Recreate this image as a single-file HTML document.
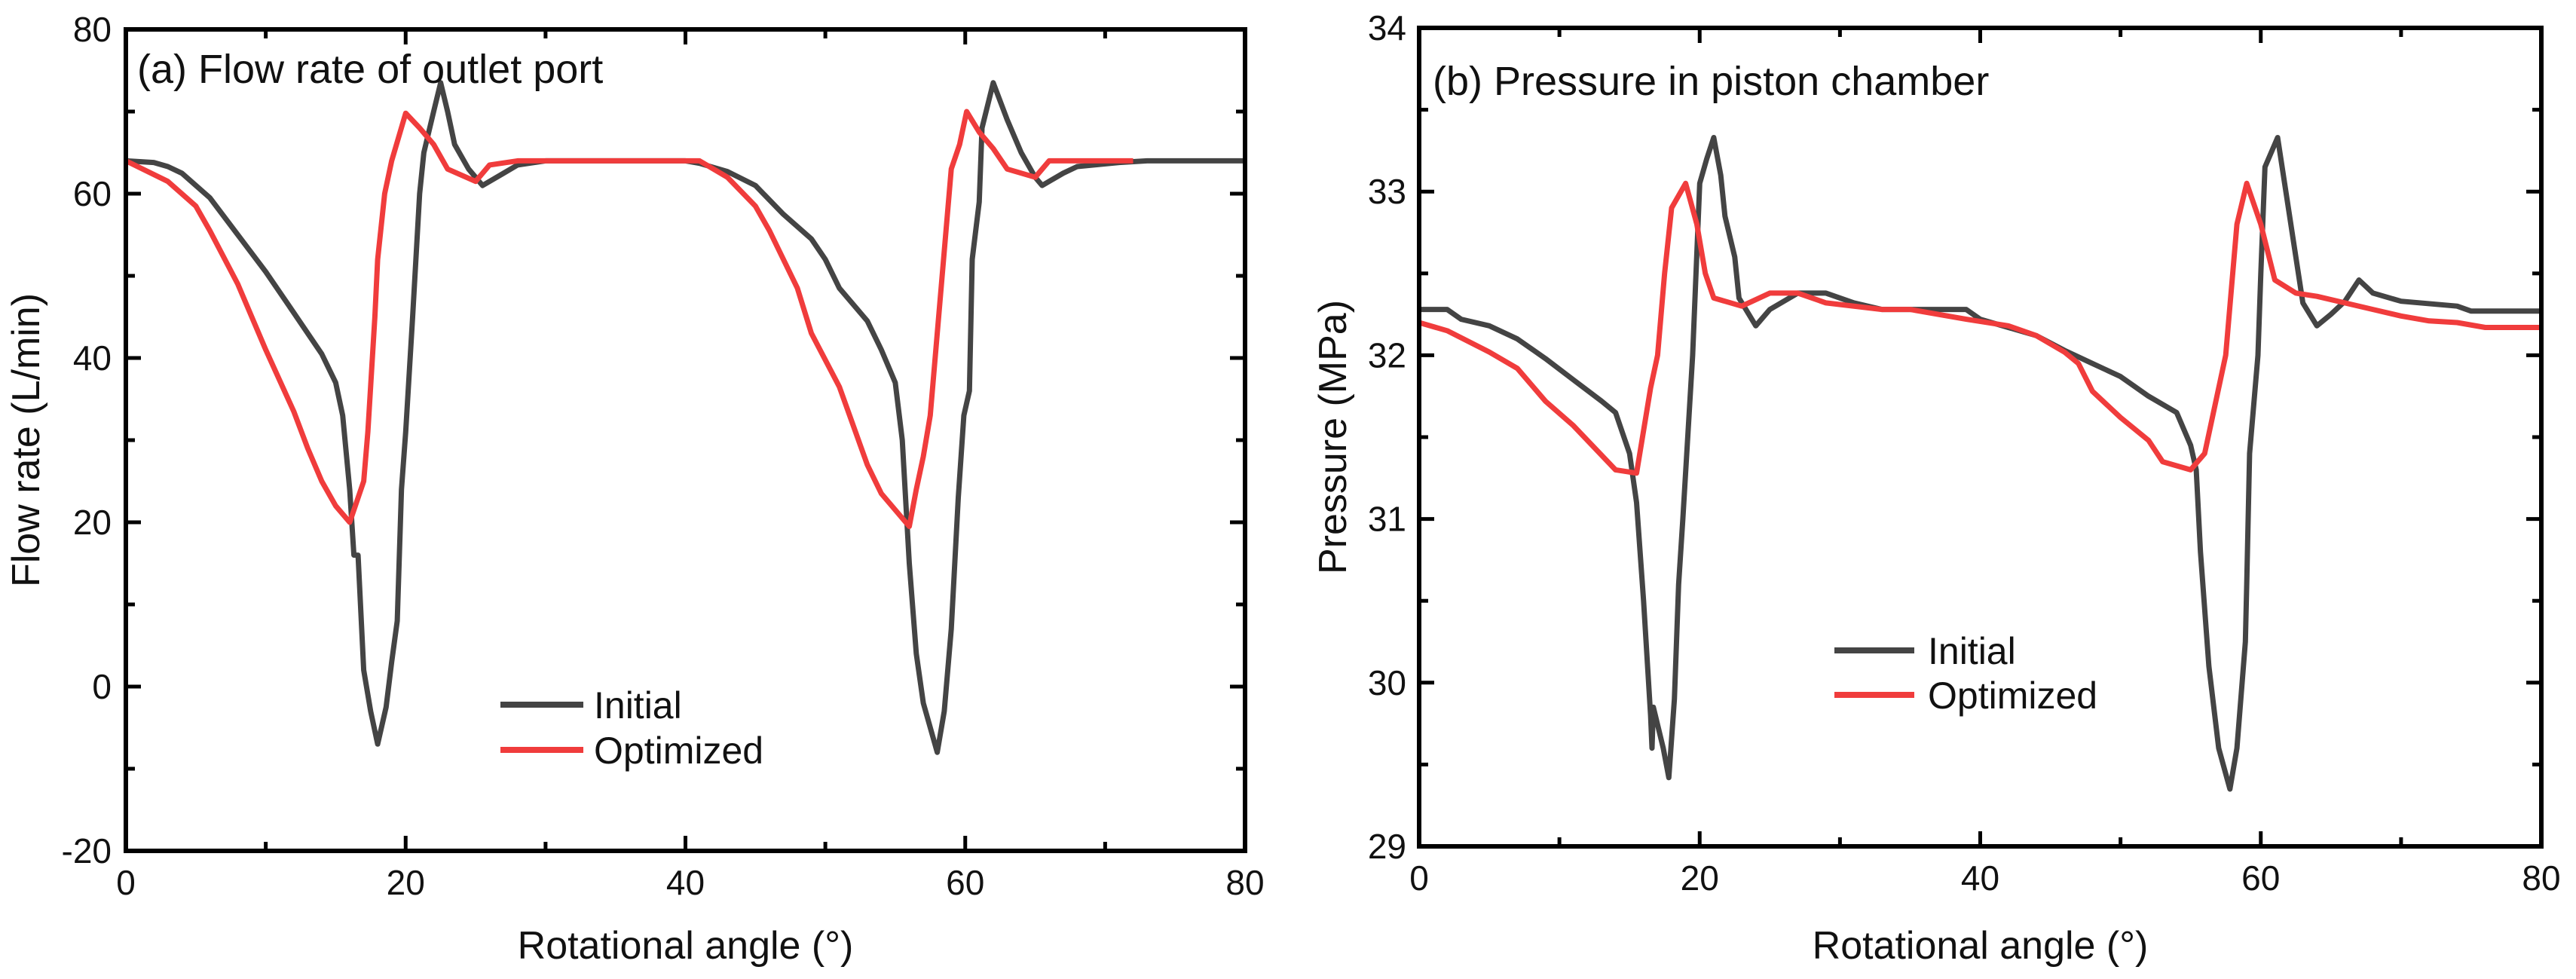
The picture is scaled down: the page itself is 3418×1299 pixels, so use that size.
<!DOCTYPE html>
<html><head><meta charset="utf-8"><style>
html,body{margin:0;padding:0;background:#fff;}
svg{display:block;font-family:"Liberation Sans",Arial,sans-serif;}
</style></head><body>
<svg id="fig" width="3418" height="1299" viewBox="0 0 3418 1299" xmlns="http://www.w3.org/2000/svg"></svg>
<script>
// ---- Panel (a): flow rate ----
const flowInitX = [0,2,3,4,6,8,10,12,14,15,15.5,16,16.3,16.6,17,17.5,18,18.6,19,19.4,19.7,20,20.5,21,21.3,22,22.5,23,23.5,24.5,25.5,27,28,30,40,41,43,45,47,49,50,51,53,54,55,55.5,56,56.5,57,58,58.5,59,59.5,59.9,60.3,60.5,61,61.2,62,63,64,65,65.5,67,68,71,73,80];
const flowInitY = [64,63.8,63.3,62.5,59.5,55,50.5,45.5,40.5,37,33,24,16,16,2,-3,-7,-2.5,3,8,24,31,45,60,65,70,73.5,70,66,63,61,62.5,63.5,64,64,63.7,62.7,61,57.5,54.5,52,48.5,44.5,41,37,30,15,4,-2,-8,-3,7,23,33,36,52,59,68,73.5,69,65,62,61,62.5,63.3,63.8,64,64];
const flowOptX = [0,3,5,6,8,10,12,13,14,15,16,17,17.3,17.8,18,18.5,19,20,21,22,23,25,26,28,40,41,43,45,46,48,49,51,53,54,56,56.5,57,57.5,58,59,59.6,60.1,61,62,63,65,66,72];
const flowOptY = [64,61.5,58.5,55.5,49,41,33.5,29,25,22,20,25,31,45,52,60,64,69.8,68,66,63,61.5,63.5,64,64,64,62,58.5,55.5,48.5,43,36.5,27,23.5,19.5,24,28,33,43,63,66,70,67.5,65.5,63,62,64,64];
const flowYTicks = [-20,0,20,40,60,80];
const xTicks = [0,20,40,60,80];
// ---- Panel (b): pressure ----
const presInitX = [0,2,3,5,7,9,11,13,14,15,15.5,16,16.5,16.6,16.7,17.4,17.8,18.2,18.5,18.8,19.5,20,20.5,21,21.5,21.8,22.5,22.8,24,25,27,29,31,33,39,40,42,44,46,48,50,52,54,55,55.4,55.7,56.3,57,57.8,58.3,58.9,59,59.2,59.8,60,60.3,61.2,62.5,63,64,65,66,67,68,70,74,75,80];
const presInitY = [32.28,32.28,32.22,32.18,32.1,31.98,31.85,31.72,31.65,31.4,31.1,30.5,29.8,29.6,29.85,29.6,29.42,29.9,30.6,31,32,33.05,33.2,33.33,33.1,32.85,32.6,32.35,32.18,32.28,32.38,32.38,32.32,32.28,32.28,32.22,32.17,32.12,32.03,31.95,31.87,31.75,31.65,31.45,31.3,30.8,30.1,29.6,29.35,29.6,30.25,30.6,31.4,32,32.5,33.15,33.33,32.6,32.32,32.18,32.25,32.33,32.46,32.38,32.33,32.3,32.27,32.27];
const presOptX = [0,2,5,7,9,11,12,14,15.5,16.5,17,17.5,18,19,19.8,20.4,21,23,25,27,29,33,35,39,42,44,46,47,48,50,52,53,55,56,57.5,58.3,59,60,61,62.5,64,68,70,72,74,76,80];
const presOptY = [32.2,32.15,32.02,31.92,31.72,31.57,31.48,31.3,31.28,31.8,32,32.5,32.9,33.05,32.8,32.5,32.35,32.3,32.38,32.38,32.32,32.28,32.28,32.22,32.18,32.12,32.02,31.95,31.78,31.62,31.48,31.35,31.3,31.4,32,32.8,33.05,32.8,32.46,32.38,32.36,32.28,32.24,32.21,32.2,32.17,32.17];
const presYTicks = [29,30,31,32,33,34];

const NS = "http://www.w3.org/2000/svg";
const svg = document.getElementById('fig');
function el(tag, attrs, parent, text){
  const e = document.createElementNS(NS, tag);
  for (const k in attrs) e.setAttribute(k, attrs[k]);
  if (text !== undefined) e.textContent = text;
  (parent||svg).appendChild(e);
  return e;
}

function panel(cfg){
  const g = el('g', {});
  
  
  const L=cfg.L,R=cfg.R,T=cfg.T,B=cfg.B;
  const sx = v => L + (v - 0) / 80 * (R - L);
  const sy = v => B - (v - cfg.ymin) / (cfg.ymax - cfg.ymin) * (B - T);
  // series
  function series(xs, ys, color, nm){
    let d = '';
    for (let i=0;i<xs.length;i++) d += (i?'L':'M') + sx(xs[i]).toFixed(1) + ' ' + sy(ys[i]).toFixed(1);
    const p = el('path', {d:d, fill:'none', stroke:color, 'stroke-width':7, 'stroke-linejoin':'round'}, g);
    
    
  }
  series(cfg.ix, cfg.iy, '#444444', 'initial-line');
  series(cfg.ox, cfg.oy, '#f03c3c', 'optimized-line');
  // frame
  const fr = el('rect', {x:L, y:T, width:R-L, height:B-T, fill:'none', stroke:'#000', 'stroke-width':6}, g);
  
  
  // x ticks
  for (let v=0; v<=80; v+=10){
    const x = sx(v), len = (v%20===0)?20:12;
    el('line', {x1:x,y1:B,x2:x,y2:B-len,stroke:'#000','stroke-width':5}, g);
    el('line', {x1:x,y1:T,x2:x,y2:T+len,stroke:'#000','stroke-width':5}, g);
  }
  xTicks.forEach(v=>{
    const t = el('text', {x:sx(v), y:B+58, 'font-size':46, 'text-anchor':'middle', fill:'#111'}, g, String(v));
    
    
  });
  // y ticks
  const yt = cfg.yticks, step = (yt[1]-yt[0])/2;
  for (let v=cfg.ymin; v<=cfg.ymax+1e-9; v+=step){
    const y = sy(v), major = Math.abs(((v-cfg.ymin)/step)%2) < 1e-6, len = major?20:12;
    el('line', {x1:L,y1:y,x2:L+len,y2:y,stroke:'#000','stroke-width':5}, g);
    el('line', {x1:R,y1:y,x2:R-len,y2:y,stroke:'#000','stroke-width':5}, g);
  }
  yt.forEach(v=>{
    const t = el('text', {x:cfg.ylabX, y:sy(v)+16, 'font-size':46, 'text-anchor':'end', fill:'#111'}, g, String(v));
    
    
  });
  // axis titles
  const xt = el('text', {x:(L+R)/2, y:1272, 'font-size':52, 'text-anchor':'middle', fill:'#111'}, g, 'Rotational angle (°)');
  
  
  const ytt = el('text', {x:0, y:0, 'font-size':52, 'text-anchor':'middle', fill:'#111', transform:`translate(${cfg.ytX},${(T+B)/2}) rotate(-90)`}, g, cfg.ytitle);
  
  
  // panel title
  const pt = el('text', {x:cfg.ptX, y:cfg.ptY, 'font-size':54, fill:'#111'}, g, cfg.ptitle);
  
  
  // legend
  const lg = el('g', {}, g);
  
  
  [['Initial','#444444',cfg.lgY1],['Optimized','#f03c3c',cfg.lgY2]].forEach(([lab,c,y])=>{
    const e = el('g', {}, lg);
    
    
    el('line', {x1:cfg.lgX1,y1:y,x2:cfg.lgX2,y2:y,stroke:c,'stroke-width':8}, e);
    el('text', {x:cfg.lgT, y:y+18, 'font-size':50, fill:'#111'}, e, lab);
  });
}

panel({name:'flow-rate-chart', L:167,R:1652,T:39,B:1129, ymin:-20,ymax:80, yticks:flowYTicks,
  ix:flowInitX, iy:flowInitY, ox:flowOptX, oy:flowOptY, ylabX:148, ytX:52,
  ytitle:'Flow rate (L/min)', ptitle:'(a) Flow rate of outlet port', ptX:182, ptY:110,
  lgX1:664,lgX2:774,lgY1:935,lgY2:995,lgT:788});
panel({name:'pressure-chart', L:1883,R:3372,T:37,B:1123, ymin:29,ymax:34, yticks:presYTicks,
  ix:presInitX, iy:presInitY, ox:presOptX, oy:presOptY, ylabX:1866, ytX:1786,
  ytitle:'Pressure (MPa)', ptitle:'(b) Pressure in piston chamber', ptX:1901, ptY:126,
  lgX1:2434,lgX2:2540,lgY1:863,lgY2:922,lgT:2558});
</script>
</body></html>
